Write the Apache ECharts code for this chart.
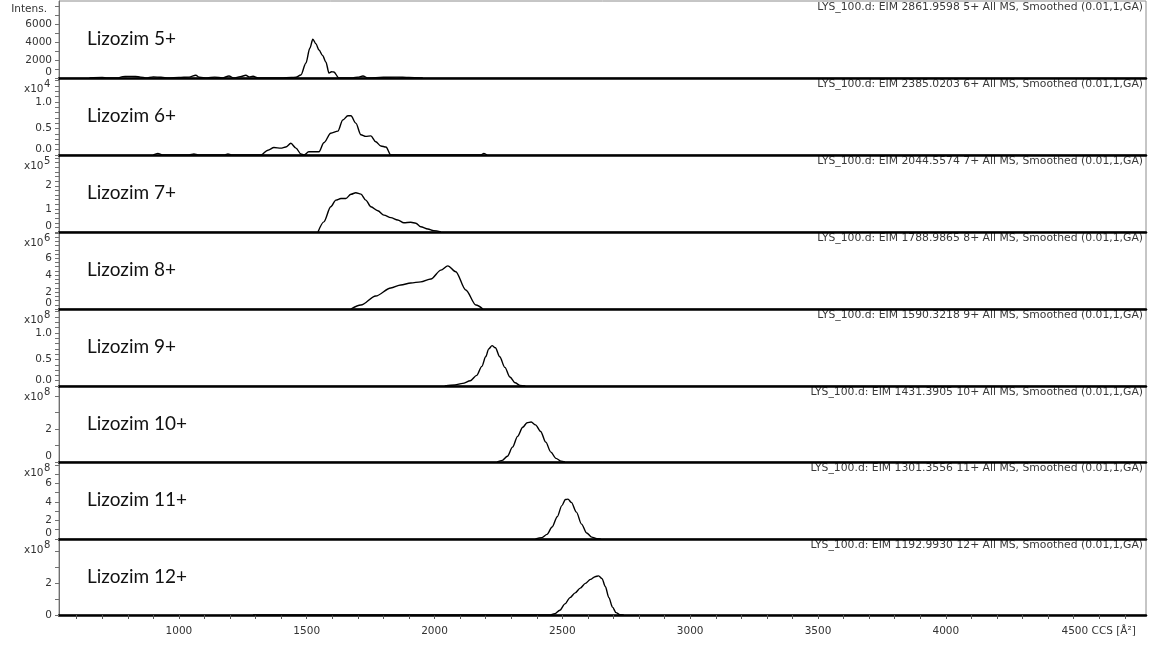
<!DOCTYPE html>
<html><head><meta charset="utf-8">
<script src="https://cdn.jsdelivr.net/npm/echarts@6/dist/echarts.min.js"></script>
<style>html,body{margin:0;padding:0;background:#fff}#c{width:1149px;height:646px}</style>
</head><body><div id="c"></div><script>
// ---- data (CCS [Å²], intensity in panel units) ----
const panelNames = ['Lizozim 5+','Lizozim 6+','Lizozim 7+','Lizozim 8+','Lizozim 9+','Lizozim 10+','Lizozim 11+','Lizozim 12+'];
const headerTexts = [
  'LYS_100.d: EIM 2861.9598 5+ All MS, Smoothed (0.01,1,GA)',
  'LYS_100.d: EIM 2385.0203 6+ All MS, Smoothed (0.01,1,GA)',
  'LYS_100.d: EIM 2044.5574 7+ All MS, Smoothed (0.01,1,GA)',
  'LYS_100.d: EIM 1788.9865 8+ All MS, Smoothed (0.01,1,GA)',
  'LYS_100.d: EIM 1590.3218 9+ All MS, Smoothed (0.01,1,GA)',
  'LYS_100.d: EIM 1431.3905 10+ All MS, Smoothed (0.01,1,GA)',
  'LYS_100.d: EIM 1301.3556 11+ All MS, Smoothed (0.01,1,GA)',
  'LYS_100.d: EIM 1192.9930 12+ All MS, Smoothed (0.01,1,GA)'
];
const exponents = [null, 4, 5, 6, 8, 8, 8, 8];

const lyz5 = [[650,0],[700,50],[720,0],[760,0],[780,150],[800,180],[830,170],[850,100],[870,0],[900,120],[930,80],[960,0],[1000,60],[1040,100],[1066,300],[1080,80],[1110,0],[1140,100],[1170,0],[1196,220],[1215,0],[1240,150],[1262,300],[1275,120],[1290,200],[1310,0],[1400,0],[1440,50],[1458,80],[1477,333],[1497,1667],[1512,3300],[1524,4300],[1536,3800],[1548,3111],[1562,2500],[1575,1778],[1587,556],[1597,700],[1606,667],[1626,0],[1680,0],[1700,100],[1720,220],[1740,0],[1800,80],[1850,100],[1900,60],[1954,0]];
const lyz6 = [[900,0],[918,0.03],[935,0],[1040,0],[1059,0.02],[1075,0],[1180,0],[1192,0.02],[1205,0],[1321,0],[1348,0.09],[1372,0.14],[1399,0.13],[1418,0.15],[1438,0.22],[1458,0.13],[1477,0.02],[1489,0],[1508,0.06],[1548,0.06],[1567,0.23],[1594,0.41],[1622,0.45],[1641,0.66],[1661,0.74],[1673,0.74],[1692,0.6],[1712,0.38],[1731,0.35],[1751,0.36],[1770,0.25],[1790,0.17],[1810,0.15],[1829,0],[2180,0],[2193,0.03],[2205,0]];
const lyz7 = [[1544,0],[1567,0.44],[1594,1.09],[1614,1.38],[1634,1.45],[1653,1.45],[1673,1.63],[1692,1.70],[1712,1.64],[1731,1.38],[1751,1.09],[1778,0.92],[1802,0.73],[1829,0.62],[1856,0.52],[1880,0.40],[1907,0.42],[1927,0.38],[1946,0.23],[1974,0.13],[1997,0.06],[2025,0]];
const lyz8 = [[1673,0],[1712,0.47],[1770,1.54],[1829,2.49],[1868,2.84],[1907,3.08],[1946,3.2],[1986,3.55],[2025,4.6],[2052,5.1],[2083,4.4],[2122,2.25],[2162,0.47],[2189,0]];
const lyz9 = [[2040,0],[2080,0.02],[2110,0.05],[2140,0.1],[2165,0.2],[2185,0.37],[2200,0.55],[2212,0.7],[2225,0.76],[2238,0.72],[2255,0.55],[2275,0.35],[2295,0.17],[2315,0.06],[2335,0.01],[2355,0]];
const lyz10 = [[2245,0],[2265,0.1],[2285,0.35],[2305,0.9],[2325,1.55],[2345,2.1],[2362,2.38],[2378,2.42],[2395,2.25],[2415,1.85],[2435,1.2],[2455,0.6],[2475,0.22],[2495,0.05],[2510,0]];
const lyz11 = [[2395,0],[2420,0.15],[2440,0.5],[2460,1.3],[2480,2.4],[2498,3.6],[2512,4.25],[2522,4.3],[2535,3.95],[2555,2.9],[2575,1.6],[2595,0.65],[2615,0.2],[2635,0.03],[2650,0]];
const lyz12 = [[1290,0],[2450,0],[2470,0.08],[2490,0.3],[2510,0.7],[2530,1.1],[2550,1.4],[2570,1.7],[2590,2.0],[2610,2.25],[2628,2.42],[2642,2.47],[2655,2.3],[2668,1.8],[2682,1.1],[2696,0.5],[2710,0.15],[2725,0.02],[2740,0]];
const seriesData = [lyz5, lyz6, lyz7, lyz8, lyz9, lyz10, lyz11, lyz12];

// axis ticks / labels
const xTickValues = [600,700,800,900,1000,1100,1200,1300,1400,1500,1600,1700,1800,1900,2000,2100,2200,2300,2400,2500,2600,2700,2800,2900,3000,3100,3200,3300,3400,3500,3600,3700,3800,3900,4000,4100,4200,4300,4400,4500,4600,4700];
const xLabelValues = [1000,1500,2000,2500,3000,3500,4000,4500];
const yMax = [8556, 1.45, 3.33, 9.1, 1.45, 4.6, 8.3, 4.8];
const yLabelValues = [[0,2000,4000,6000],[0,0.5,1.0],[0,1,2],[0,2,4,6],[0,0.5,1.0],[0,2],[0,2,4,6],[0,2]];
const yTickValues = [
  [0,1000,2000,3000,4000,5000,6000,7000,8000],
  [0,0.1,0.2,0.3,0.4,0.5,0.6,0.7,0.8,0.9,1.0,1.1,1.2,1.3,1.4],
  [0,0.2,0.4,0.6,0.8,1.0,1.2,1.4,1.6,1.8,2.0,2.2,2.4,2.6,2.8,3.0,3.2],
  [0,0.5,1,1.5,2,2.5,3,3.5,4,4.5,5,5.5,6,6.5,7,7.5,8,8.5,9],
  [0,0.1,0.2,0.3,0.4,0.5,0.6,0.7,0.8,0.9,1.0,1.1,1.2,1.3,1.4],
  [0,1,2,3,4],
  [0,1,2,3,4,5,6,7,8],
  [0,1,2,3,4]
];
const yDecimals = [0,1,0,0,1,0,0,0];

// ---- layout ----
const plotLeft = 59, plotWidth = 1087;
const panelTops = [1,78,155,232,309,386,462,539];
const panelHeights = [77,77,77,77,77,76,77,76];
const xMin = 531, xMax = 4783;
const axisFont = '"DejaVu Sans", Verdana, sans-serif';

const chart = echarts.init(document.getElementById('c'), null, {renderer:'canvas'});
const grids = [], xAxes = [], yAxes = [], series = [], graphics = [];
const last = panelNames.length - 1;
panelNames.forEach((name, i) => {
  grids.push({left: plotLeft, top: panelTops[i], width: plotWidth, height: panelHeights[i],
    show: true, borderColor: '#8c8c8c', borderWidth: 1, backgroundColor: 'rgba(0,0,0,0)'});
  xAxes.push({gridIndex: i, type: 'value', min: xMin, max: xMax,
    axisLine: {show: true, onZero: false, lineStyle: {color: '#000', width: 2.5}},
    axisTick: {show: i === last, customValues: xTickValues, length: 4, lineStyle: {color: '#555', width: 1}},
    axisLabel: {show: i === last, customValues: xLabelValues, margin: 11, fontSize: 10.5, color: '#333', fontFamily: axisFont,
      formatter: v => v === 4500 ? '{p|' + v + '}{n| CCS [Å²]}' : '{n|' + v + '}',
      rich: {n: {fontSize: 10.5, color: '#333', fontFamily: axisFont}, p: {fontSize: 10.5, color: '#333', fontFamily: axisFont, padding: [0,0,0,50]}}},
    splitLine: {show: false}});
  yAxes.push({gridIndex: i, type: 'value', min: 0, max: yMax[i],
    axisLine: {show: true, lineStyle: {color: '#707070', width: 1}},
    axisTick: {show: true, customValues: yTickValues[i], length: 4, lineStyle: {color: '#707070', width: 1}},
    axisLabel: {customValues: yLabelValues[i], margin: 7, fontSize: 10.5, color: '#333', fontFamily: axisFont,
      formatter: v => { const t = v.toFixed(yDecimals[i]); return (v === 0 && i < last) ? '{z|' + t + '}' : t; },
      rich: {z: {fontSize: 10.5, color: '#333', fontFamily: axisFont, padding: [0,0,12,0]}}},
    splitLine: {show: false}});
  series.push({type: 'line', xAxisIndex: i, yAxisIndex: i, data: seriesData[i], showSymbol: false,
    smooth: 0.3, smoothMonotone: 'x', lineStyle: {color: '#000', width: 1.4}, animation: false, silent: true});
  const top = panelTops[i];
  graphics.push({type: 'text', x: 87, y: top + 38, style: {text: name, font: '19px Lato, "Open Sans", sans-serif', fill: '#111', align: 'left', verticalAlign: 'middle'}});
  graphics.push({type: 'text', x: 1143, y: top + 6, style: {text: headerTexts[i], font: '10.8px ' + axisFont, fill: '#3a3a3a', align: 'right', verticalAlign: 'middle'}});
  if (exponents[i] === null) {
    graphics.push({type: 'text', x: 47, y: top + 8, style: {text: 'Intens.', font: '10.5px ' + axisFont, fill: '#333', align: 'right', verticalAlign: 'middle'}});
  } else {
    graphics.push({type: 'text', x: 43.5, y: top + 11, style: {text: 'x10', font: '10.5px ' + axisFont, fill: '#333', align: 'right', verticalAlign: 'middle'}});
    graphics.push({type: 'text', x: 44, y: top + 6, style: {text: String(exponents[i]), font: '10px ' + axisFont, fill: '#333', align: 'left', verticalAlign: 'middle'}});
  }
});

chart.setOption({animation: false, backgroundColor: '#fff', grid: grids, xAxis: xAxes, yAxis: yAxes, series: series, graphic: graphics});
</script></body></html>
